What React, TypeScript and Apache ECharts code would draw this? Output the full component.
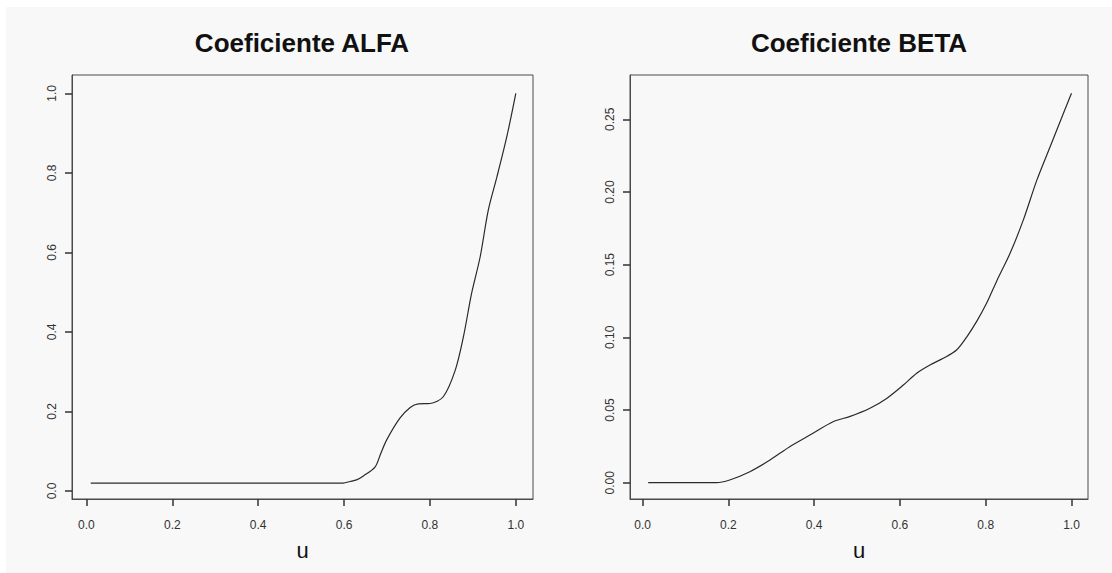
import React, { useEffect, useRef } from "react";
import * as echarts from "echarts";

// ---- Data ----
const alfaU = [0.01, 0.1, 0.2, 0.3, 0.4, 0.5, 0.567, 0.598, 0.614, 0.629, 0.645, 0.672, 0.685, 0.699, 0.73, 0.754, 0.773, 0.8, 0.831, 0.859, 0.878, 0.897, 0.917, 0.936, 0.956, 0.979, 1.0];
const alfaV = [0.02, 0.02, 0.02, 0.02, 0.02, 0.02, 0.02, 0.02, 0.024, 0.028, 0.038, 0.06, 0.093, 0.128, 0.183, 0.21, 0.219, 0.22, 0.237, 0.304, 0.388, 0.497, 0.589, 0.707, 0.79, 0.891, 1.0];

const betaU = [0.013, 0.1, 0.172, 0.203, 0.25, 0.297, 0.343, 0.39, 0.444, 0.484, 0.53, 0.569, 0.608, 0.639, 0.67, 0.701, 0.732, 0.756, 0.779, 0.802, 0.826, 0.857, 0.888, 0.919, 0.95, 0.981, 1.0];
const betaV = [0, 0, 0, 0.0019, 0.0076, 0.0156, 0.0248, 0.0328, 0.042, 0.0456, 0.0512, 0.058, 0.0672, 0.0753, 0.081, 0.0856, 0.0913, 0.1004, 0.111, 0.1234, 0.139, 0.158, 0.181, 0.208, 0.231, 0.254, 0.268];

const xTicks = [0, 0.2, 0.4, 0.6, 0.8, 1.0];
const alfaYTicks = [0, 0.2, 0.4, 0.6, 0.8, 1.0];
const betaYTicks = [0, 0.05, 0.1, 0.15, 0.2, 0.25];

const titles = ["Coeficiente ALFA", "Coeficiente BETA"];
const xName = "u";

const FONT = "Liberation Sans, Arial, Helvetica, sans-serif";
const AXIS_COLOR = "#4a4a4a";
const TICK_COLOR = "#333";
const LABEL_COLOR = "#333";

function makeXAxis(gridIndex: number, min: number, max: number) {
  return {
    type: "value",
    gridIndex,
    min,
    max,
    name: xName,
    nameLocation: "middle",
    nameGap: 40,
    nameTextStyle: { fontSize: 22, color: "#111", fontFamily: FONT },
    axisLine: { show: true, onZero: false, lineStyle: { color: AXIS_COLOR, width: 1 } },
    splitLine: { show: false },
    axisTick: {
      show: true,
      customValues: xTicks,
      length: 7,
      lineStyle: { color: TICK_COLOR, width: 1.5 },
    },
    axisLabel: {
      show: true,
      customValues: xTicks,
      margin: 20,
      fontSize: 12,
      color: LABEL_COLOR,
      fontFamily: FONT,
      formatter: (v: number) => v.toFixed(1),
    },
  };
}

function makeYAxis(gridIndex: number, min: number, max: number, ticks: number[], digits: number) {
  return {
    type: "value",
    gridIndex,
    min,
    max,
    axisLine: { show: true, onZero: false, lineStyle: { color: AXIS_COLOR, width: 1 } },
    splitLine: { show: false },
    axisTick: {
      show: true,
      customValues: ticks,
      length: 7,
      lineStyle: { color: TICK_COLOR, width: 1.5 },
    },
    axisLabel: {
      show: true,
      customValues: ticks,
      rotate: 90,
      margin: 14,
      fontSize: 12,
      color: LABEL_COLOR,
      fontFamily: FONT,
      formatter: (v: number) => v.toFixed(digits),
    },
  };
}

export default function App() {
  const ref = useRef<HTMLDivElement>(null);

  useEffect(() => {
    if (!ref.current) return;
    const chart = echarts.init(ref.current, undefined, { renderer: "svg" });
    const option = {
      animation: false,
      backgroundColor: "#f8f8f8",
      graphic: [
        { type: "rect", shape: { x: 0, y: 0, width: 6, height: 573 }, style: { fill: "#ffffff" }, silent: true },
        { type: "rect", shape: { x: 0, y: 0, width: 1112, height: 7 }, style: { fill: "#ffffff" }, silent: true },
        {
          type: "text",
          x: 302,
          y: 43,
          style: { text: titles[0], textAlign: "center", textVerticalAlign: "middle", font: `bold 26px ${FONT}`, fill: "#111" },
        },
        {
          type: "text",
          x: 859,
          y: 43,
          style: { text: titles[1], textAlign: "center", textVerticalAlign: "middle", font: `bold 26px ${FONT}`, fill: "#111" },
        },
      ],
      grid: [
        { left: 72, top: 75, width: 461, height: 424, show: true, borderColor: AXIS_COLOR, borderWidth: 1, backgroundColor: "transparent", containLabel: false },
        { left: 630, top: 75, width: 458, height: 424, show: true, borderColor: AXIS_COLOR, borderWidth: 1, backgroundColor: "transparent", containLabel: false },
      ],
      xAxis: [makeXAxis(0, -0.0336, 1.04), makeXAxis(1, -0.0294, 1.0385)],
      yAxis: [makeYAxis(0, -0.0201, 1.046, alfaYTicks, 1), makeYAxis(1, -0.0112, 0.2805, betaYTicks, 2)],
      series: [
        {
          type: "line",
          xAxisIndex: 0,
          yAxisIndex: 0,
          data: alfaU.map((u, i) => [u, alfaV[i]]),
          showSymbol: false,
          smooth: 0.3,
          lineStyle: { color: "#2a2a2a", width: 1.2 },
        },
        {
          type: "line",
          xAxisIndex: 1,
          yAxisIndex: 1,
          data: betaU.map((u, i) => [u, betaV[i]]),
          showSymbol: false,
          smooth: 0.3,
          lineStyle: { color: "#2a2a2a", width: 1.2 },
        },
      ],
    };
    chart.setOption(option as any);
    return () => chart.dispose();
  }, []);

  return (
    <div style={{ position: "fixed", left: 0, top: 0, width: 1112, height: 573, background: "#fff" }}>
      <div ref={ref} style={{ width: 1112, height: 573 }} />
    </div>
  );
}
